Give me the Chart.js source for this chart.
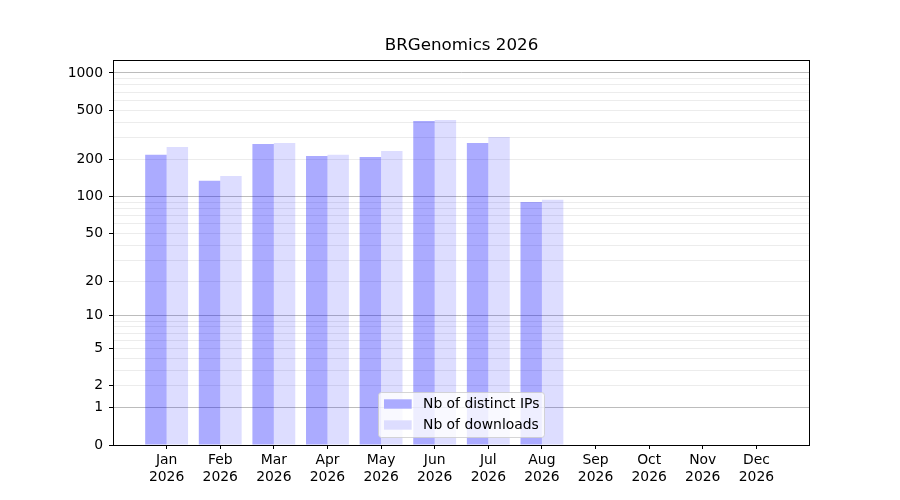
<!DOCTYPE html>
<html>
<head>
<meta charset="utf-8">
<script src="https://cdn.jsdelivr.net/npm/chart.js@4"></script>
<style>
  html, body { margin: 0; padding: 0; background: #fff; }
  #wrap { width: 900px; height: 500px; }
</style>
</head>
<body>
<div id="wrap"><canvas id="chart"></canvas></div>
<script>
// Dados
const months = ["Jan", "Feb", "Mar", "Apr", "May", "Jun", "Jul", "Aug", "Sep", "Oct", "Nov", "Dec"];
const year = "2026";
const distinctIPs = [218, 134, 267, 213, 209, 409, 272, 90, 0, 0, 0, 0];
const downloads = [252, 147, 272, 218, 234, 417, 304, 94, 0, 0, 0, 0];
const labeledTicks = [0, 1, 2, 5, 10, 20, 50, 100, 200, 500, 1000];
const majorTicks = [1, 10, 100, 1000];
const minorTicks = [3, 4, 6, 7, 8, 9, 30, 40, 60, 70, 80, 90, 300, 400, 600, 700, 800, 900];
const yMaxValue = 1273;

const FONT = "'DejaVu Sans', sans-serif";

// escala log(1+x), como no symlog do original
const tr = (v) => Math.log10(1 + v);
const near = (a, b) => Math.abs(a - b) < 1e-6;
const isLabeled = (t) => labeledTicks.some((v) => near(tr(v), t));
const isMajor = (t) => majorTicks.some((v) => near(tr(v), t));

// moldura, título e legenda
const decorPlugin = {
  id: "decor",
  afterDraw(chart) {
    const { ctx, chartArea: a } = chart;
    ctx.save();
    ctx.strokeStyle = "#000";
    ctx.lineWidth = 1;
    ctx.strokeRect(Math.round(a.left) + 0.5, Math.round(a.top) + 0.5,
      Math.round(a.right - a.left) - 1, Math.round(a.bottom - a.top));

    ctx.fillStyle = "#000";
    ctx.font = "16.7px " + FONT;
    ctx.textAlign = "center";
    ctx.textBaseline = "middle";
    ctx.fillText("BRGenomics " + year, (a.left + a.right) / 2, 46);

    // legenda no canto inferior central
    const lx = 378.5, ly = 392.5, lw = 166, lh = 45;
    ctx.beginPath();
    ctx.roundRect(lx, ly, lw, lh, 3);
    ctx.fillStyle = "rgba(255,255,255,0.8)";
    ctx.fill();
    ctx.strokeStyle = "rgba(204,204,204,0.8)";
    ctx.stroke();
    ctx.font = "13.9px " + FONT;
    ctx.textAlign = "left";
    chart.data.datasets.forEach((ds, i) => {
      const y = 404 + i * 21;
      ctx.fillStyle = "#fff";
      ctx.fillRect(384, y - 4.7, 27.7, 9.4);
      ctx.fillStyle = ds.backgroundColor;
      ctx.fillRect(384, y - 4.7, 27.7, 9.4);
      ctx.fillStyle = "#000";
      ctx.fillText(ds.label, 423, y);
    });
    ctx.restore();
  },
};

const ctx = document.getElementById("chart").getContext("2d");
new Chart(ctx, {
  type: "bar",
  data: {
    datasets: [
      {
        label: "Nb of distinct IPs",
        data: distinctIPs.map((v, i) => ({ x: i, y: tr(v) })),
        backgroundColor: "rgba(0,0,255,0.33)",
      },
      {
        label: "Nb of downloads",
        data: downloads.map((v, i) => ({ x: i, y: tr(v) })),
        backgroundColor: "rgba(0,0,255,0.135)",
      },
    ],
  },
  options: {
    responsive: true,
    maintainAspectRatio: false,
    animation: false,
    devicePixelRatio: 1,
    layout: { padding: { top: 60, right: 90, left: 0, bottom: 0 } },
    datasets: { bar: { categoryPercentage: 0.8, barPercentage: 1.0 } },
    plugins: {
      legend: { display: false },
      title: { display: false },
      tooltip: { enabled: false },
    },
    scales: {
      x: {
        type: "linear",
        min: -1,
        max: 12,
        offset: false,
        afterBuildTicks: (scale) => {
          scale.ticks = months.map((m, i) => ({ value: i }));
        },
        afterFit: (scale) => { scale.height = 55; },
        ticks: {
          autoSkip: false,
          maxRotation: 0,
          padding: 3,
          color: "#000",
          font: { family: FONT, size: 13.9 },
          callback: (v) => [months[v], year],
        },
        grid: {
          offset: false,
          drawOnChartArea: false,
          drawTicks: true,
          tickLength: 4,
          tickColor: "#000",
        },
        border: { display: false },
      },
      y: {
        type: "linear",
        min: 0,
        max: tr(yMaxValue),
        afterBuildTicks: (scale) => {
          const all = labeledTicks.concat(minorTicks).sort((a, b) => a - b);
          scale.ticks = all.map((v) => ({ value: tr(v) }));
        },
        afterFit: (scale) => { scale.width = 113; },
        ticks: {
          autoSkip: false,
          padding: 6,
          color: "#000",
          font: { family: FONT, size: 13.9 },
          callback: (v) => {
            const hit = labeledTicks.find((t) => near(tr(t), v));
            return hit === undefined ? "" : String(hit);
          },
        },
        grid: {
          drawTicks: true,
          tickLength: 4,
          lineWidth: 1,
          color: (c) => {
            const t = c.tick ? c.tick.value : 0;
            if (near(t, 0)) return "rgba(0,0,0,0)";
            return isMajor(t) ? "rgba(160,160,160,0.7)" : "rgba(220,220,220,0.55)";
          },
          tickColor: (c) => {
            const t = c.tick ? c.tick.value : 0;
            return isLabeled(t) ? "#000" : "rgba(0,0,0,0)";
          },
        },
        border: { display: false },
      },
    },
  },
  plugins: [decorPlugin],
});
</script>
</body>
</html>
